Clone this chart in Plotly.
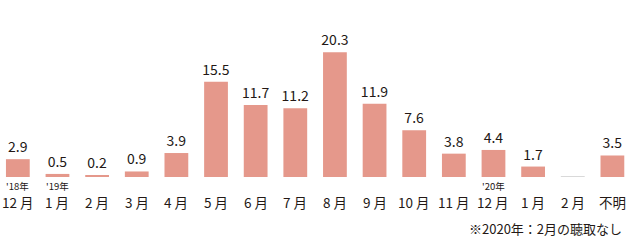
import plotly.graph_objects as go

categories = ["12月'18", "1月'19", "2月'19", "3月'19", "4月'19", "5月'19", "6月'19", "7月'19",
              "8月'19", "9月'19", "10月'19", "11月'19", "12月'19", "1月'20", "2月'20", "不明"]
month_labels = ["12 月", "1 月", "2 月", "3 月", "4 月", "5 月", "6 月", "7 月",
                "8 月", "9 月", "10 月", "11 月", "12 月", "1 月", "2 月", "不明"]
year_labels = {"12月'18": "'18年", "1月'19": "'19年", "12月'19": "'20年"}
values = [2.9, 0.5, 0.2, 0.9, 3.9, 15.5, 11.7, 11.2, 20.3, 11.9, 7.6, 3.8, 4.4, 1.7, None, 3.5]
no_data = ["2月'20"]
note = "※2020年：2月の聴取なし"

FONT = "Noto Sans CJK JP"
TXT = "#231815"
BAR = "#e5988b"

fig = go.Figure()
fig.add_trace(go.Bar(
    x=categories,
    y=[v if v is not None else 0 for v in values],
    text=[f"{v:.1f}" if v is not None else "" for v in values],
    textposition="outside",
    constraintext="none",
    textfont=dict(family=FONT, size=14, color=TXT),
    cliponaxis=False,
    marker=dict(color=BAR, line=dict(width=0)),
    width=0.6,
    hoverinfo="skip",
))
# grey placeholder line for the month with no data
fig.add_trace(go.Bar(
    x=no_data, y=[0],
    marker=dict(color="#cccccc", line=dict(color="#cccccc", width=1)),
    width=0.6, hoverinfo="skip",
))

for c, m in zip(categories, month_labels):
    fig.add_annotation(x=c, y=0, xref="x", yref="y", text=m, showarrow=False,
                       yanchor="middle", yshift=-25,
                       font=dict(family=FONT, size=13.5, color=TXT))
for c, yl in year_labels.items():
    fig.add_annotation(x=c, y=0, xref="x", yref="y", text=yl, showarrow=False,
                       yanchor="middle", yshift=-9,
                       font=dict(family=FONT, size=9.5, color=TXT))
fig.add_annotation(x=1, y=0, xref="paper", yref="y", text=note, showarrow=False,
                   xanchor="right", yanchor="middle", yshift=-51, xshift=-9,
                   font=dict(family=FONT, size=13, color=TXT))

fig.update_layout(
    width=633, height=246,
    margin=dict(l=0, r=0, t=0, b=69),
    paper_bgcolor="white", plot_bgcolor="white",
    showlegend=False, barmode="overlay",
    xaxis=dict(type="category", range=[-0.45, 15.52], showticklabels=False,
               showgrid=False, zeroline=False, showline=False, ticks=""),
    yaxis=dict(range=[0, 28.8], visible=False),
)
fig.write_html("out.html")
